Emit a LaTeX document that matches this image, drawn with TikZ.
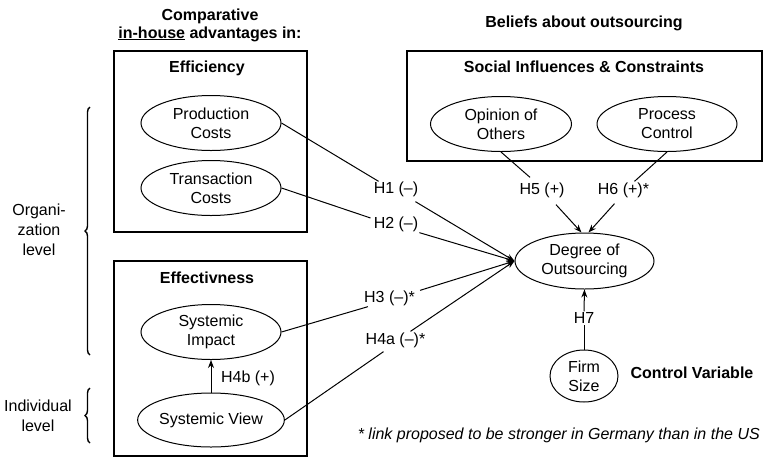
\documentclass[tikz,border=0pt]{standalone}
\usepackage{fontspec}
\setmainfont{Liberation Sans}
\usetikzlibrary{arrows.meta,decorations.pathreplacing,shapes.geometric}
\begin{document}
\begin{tikzpicture}[x=1pt,y=-1pt,
  every node/.style={font=\fontsize{16}{19}\selectfont, inner sep=1pt},
  ell/.style={draw, ellipse, line width=1pt, inner sep=0pt, align=center, minimum width=140pt, minimum height=55pt},
  grp/.style={draw, line width=1.2pt, inner sep=0pt},
  ttl/.style={font=\fontsize{16}{18}\selectfont\bfseries, align=center},
  con/.style={line width=1pt},
  arr/.style={con, -{Stealth[length=8pt,width=6pt]}},
  brc/.style={line width=1.4pt, decorate, decoration={brace, amplitude=5pt}},
  side/.style={align=center, font=\fontsize{16}{20}\selectfont},
]
\useasboundingbox (0,0) rectangle (764,467);

% titles
\node[ttl] (t1) at (210,25) {Comparative\\\underline{in-house} advantages in:};
\node[ttl] (t2) at (584,23) {Beliefs about outsourcing};

% group boxes
\node[grp, minimum width=193pt, minimum height=181pt] (effbox) at (210.5,141.5) {};
\node[grp, minimum width=193pt, minimum height=195pt] (effvbox) at (210.5,358.5) {};
\node[grp, minimum width=355pt, minimum height=110pt] (socbox) at (584.5,106) {};

\node[ttl] (effl) at (207,68) {Efficiency};
\node[ttl] (effvl) at (207,278) {Effectivness};
\node[ttl] (socl) at (584,67) {Social Influences \& Constraints};
\node[ttl] (ctrl) at (692,373) {Control Variable};

% ellipses
\node[ell] (pc) at (211,123) {Production\\Costs};
\node[ell] (tc) at (211,188) {Transaction\\Costs};
\node[ell] (si) at (211,332) {Systemic\\Impact};
\node[ell, minimum height=54pt] (sv) at (211,420) {Systemic View};
\node[ell, minimum width=141pt] (oo) at (501,124) {Opinion of\\Others};
\node[ell] (pcl) at (667,124) {Process\\Control};
\node[ell, minimum width=139pt, minimum height=56pt] (deg) at (584.5,261) {Degree of\\Outsourcing};
\node[ell, minimum width=68pt, minimum height=52pt] (fs) at (584,376) {Firm\\Size};

% hypothesis labels
\node (h1) at (396,189) {H1 (\textendash)};
\node (h2) at (396,224) {H2 (\textendash)};
\node (h3) at (389.5,298) {H3 (\textendash)*};
\node (h4a) at (395.5,340) {H4a (\textendash)*};
\node (h4b) at (248,378) {H4b (+)};
\node (h5) at (542,190) {H5 (+)};
\node (h6) at (623.5,190) {H6 (+)*};
\node (h7) at (584,318) {H7};

% connectors
\draw[con] (pc.east) -- ([xshift=6pt,yshift=-1pt]h1.north west);
\draw[arr] ([xshift=-4pt,yshift=-4pt]h1.south east) -- (deg.west);
\draw[con] (tc.east) -- ([xshift=-2pt,yshift=6pt]h2.west);
\draw[arr] (h2.south east) -- (deg.west);
\draw[con] (si.east) -- ([xshift=5pt]h3.south west);
\draw[arr] ([xshift=4pt,yshift=-1pt]h3.north east) -- (deg.west);
\draw[con] (sv.east) -- ([xshift=-12pt,yshift=-3pt]h4a.south);
\draw[arr] ([xshift=15pt]h4a.north) -- (deg.west);
\draw[arr] (sv.north) -- (si.south);

\draw[con] (oo.south) -- ([xshift=-12pt,yshift=4pt]h5.north);
\draw[arr] ([xshift=14pt,yshift=-6pt]h5.south) -- ([xshift=-3pt]deg.north);
\draw[con] (pcl.south) -- ([xshift=11pt]h6.north);
\draw[arr] ([xshift=-9pt,yshift=-5pt]h6.south) -- ([xshift=4pt]deg.north);

\draw[con] (fs.north) -- (h7.south);
\draw[arr] (h7.north) -- (deg.south);

% level braces
\coordinate (ob1) at (90,355);
\coordinate (ob2) at (90,107);
\coordinate (ib1) at (90,443);
\coordinate (ib2) at (90,388);
\draw[brc] (ob1) -- (ob2);
\draw[brc] (ib1) -- (ib2);
\node[side] (orgl) at (39,230) {Organi-\\zation\\level};
\node[side] (indl) at (38,416) {Individual\\level};

% footnote
\node[anchor=east, font=\fontsize{16}{19}\selectfont\itshape] (fn) at (761,435) {* link proposed to be stronger in Germany than in the US};
\end{tikzpicture}
\end{document}
